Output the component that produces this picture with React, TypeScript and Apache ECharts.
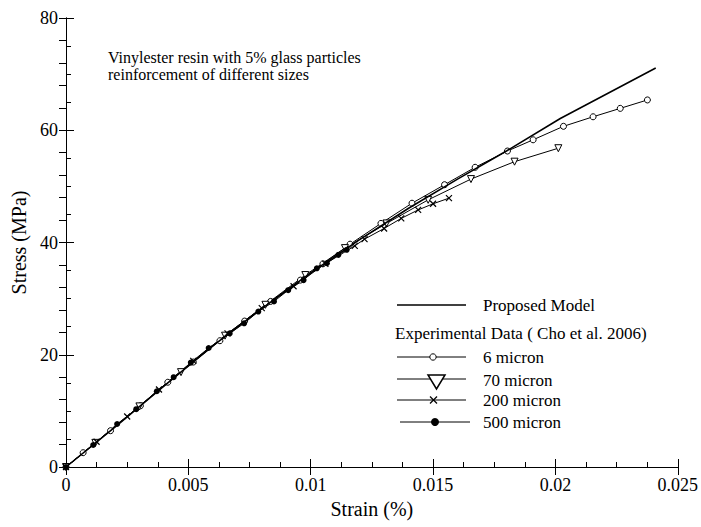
import React, { useEffect, useRef } from "react";
import * as echarts from "echarts";

const FONT = "'Liberation Serif', 'Times New Roman', serif";

// Strain ticks (bottom axis)
const strainTicks = [0, 0.005, 0.01, 0.015, 0.02, 0.025];
const stressTicks = [0, 20, 40, 60, 80];

// Proposed model
const modelStrain = [0, 0.002, 0.004, 0.006, 0.008, 0.01, 0.012, 0.014, 0.016, 0.018, 0.0202, 0.0241];
const modelStress = [0, 7.1, 14.4, 21.6, 28.2, 34.6, 40.5, 46.1, 51.3, 56.3, 62.1, 71.1];

// 6 micron
const s6Strain = [0, 0.0007, 0.00182, 0.00304, 0.00416, 0.0052, 0.00629, 0.0073, 0.00836, 0.00958, 0.0105, 0.01161, 0.01287, 0.01414, 0.01547, 0.01672, 0.01804, 0.01909, 0.02033, 0.02154, 0.02265, 0.02376];
const s6Stress = [0, 2.55, 6.47, 10.9, 15.1, 18.7, 22.5, 26.0, 29.5, 33.3, 36.2, 39.7, 43.4, 47.0, 50.3, 53.4, 56.3, 58.3, 60.7, 62.4, 63.9, 65.4];

// 70 micron
const s70Strain = [0, 0.0012, 0.003, 0.0047, 0.0065, 0.00815, 0.00978, 0.0114, 0.0131, 0.0148, 0.01655, 0.01833, 0.02012];
const s70Stress = [0, 4.3, 10.8, 16.9, 23.4, 28.9, 34.2, 39.0, 43.4, 47.6, 51.3, 54.4, 56.8];

// 200 micron
const s200Strain = [0, 0.00125, 0.0025, 0.0038, 0.0052, 0.0066, 0.008, 0.0093, 0.0106, 0.0118, 0.0122, 0.013, 0.0137, 0.01439, 0.015, 0.01565];
const s200Stress = [0, 4.5, 9.0, 13.8, 18.9, 23.8, 28.3, 32.2, 36.2, 39.4, 40.6, 42.5, 44.3, 45.8, 46.9, 47.9];

// 500 micron
const s500Strain = [0, 0.00111, 0.00209, 0.00287, 0.00371, 0.0044, 0.0051, 0.00583, 0.00669, 0.00728, 0.00786, 0.0085, 0.00908, 0.00971, 0.01025, 0.01066, 0.01113, 0.01147];
const s500Stress = [0, 3.92, 7.66, 10.3, 13.5, 16.0, 18.6, 21.2, 23.8, 25.6, 27.7, 29.5, 31.5, 33.3, 35.4, 36.3, 37.8, 38.7];

const zip = (xs: number[], ys: number[]) => xs.map((x, i) => [x, ys[i]]);

export default function App() {
  const ref = useRef<HTMLDivElement>(null);
  useEffect(() => {
    const chart = echarts.init(ref.current!, null, { renderer: "svg" });
    const axisLine = { show: true, lineStyle: { color: "#000", width: 1 } };
    const expLine = { color: "#000", width: 1 };
    const txt = (x: number, y: number, text: string, size: number) => ({
      type: "text",
      x,
      y,
      style: { text, fontFamily: FONT, fontSize: size, fill: "#000", verticalAlign: "middle" },
    });
    chart.setOption({
      animation: false,
      backgroundColor: "#fff",
      textStyle: { fontFamily: FONT },
      grid: { left: 66, right: 21, top: 18, bottom: 60 },
      xAxis: [
        {
          type: "value",
          position: "bottom",
          min: strainTicks[0],
          max: strainTicks[strainTicks.length - 1],
          interval: 0.005,
          name: "Strain (%)",
          nameLocation: "middle",
          nameGap: 31,
          nameTextStyle: { fontFamily: FONT, fontSize: 20, color: "#000" },
          axisLine,
          axisTick: { inside: true, length: 8, lineStyle: { color: "#000" } },
          minorTick: { show: true, splitNumber: 4, length: 5, lineStyle: { color: "#000" } },
          splitLine: { show: false },
          axisLabel: {
            fontFamily: FONT,
            fontSize: 18,
            color: "#000",
            margin: 9,
            formatter: (v: number) => String(+v.toFixed(3)),
          },
        },
        {
          type: "value",
          position: "top",
          min: strainTicks[0],
          max: strainTicks[strainTicks.length - 1],
          interval: 0.005,
          axisLine,
          axisTick: { inside: true, length: 8, lineStyle: { color: "#000" } },
          splitLine: { show: false },
          axisLabel: { show: false },
        },
      ],
      yAxis: [
        {
          type: "value",
          position: "left",
          min: stressTicks[0],
          max: stressTicks[stressTicks.length - 1],
          interval: 20,
          name: "Stress (MPa)",
          nameLocation: "middle",
          nameGap: 36,
          nameTextStyle: { fontFamily: FONT, fontSize: 20, color: "#000" },
          axisLine,
          axisTick: { inside: true, length: 8, lineStyle: { color: "#000" } },
          minorTick: { show: true, splitNumber: 4, length: 5, lineStyle: { color: "#000" } },
          splitLine: { show: false },
          axisLabel: { fontFamily: FONT, fontSize: 18, color: "#000", margin: 8 },
        },
        {
          type: "value",
          position: "right",
          min: 0,
          max: 80,
          interval: 4,
          axisLine,
          axisTick: { inside: true, length: 7, lineStyle: { color: "#000" } },
          splitLine: { show: false },
          axisLabel: { show: false },
        },
      ],
      series: [
        {
          name: "6 micron",
          type: "line",
          data: zip(s6Strain, s6Stress),
          symbol: "circle",
          symbolSize: 6,
          showAllSymbol: true,
          lineStyle: expLine,
          itemStyle: { color: "#fff", borderColor: "#000", borderWidth: 1 },
        },
        {
          name: "70 micron",
          type: "line",
          data: zip(s70Strain, s70Stress),
          symbol: "triangle",
          symbolRotate: 180,
          symbolSize: 7,
          showAllSymbol: true,
          lineStyle: expLine,
          itemStyle: { color: "#fff", borderColor: "#000", borderWidth: 1 },
        },
        {
          name: "200 micron",
          type: "line",
          data: zip(s200Strain, s200Stress),
          symbol: "path://M0,0L10,10M10,0L0,10",
          symbolSize: 6,
          showAllSymbol: true,
          lineStyle: expLine,
          itemStyle: { color: "none", borderColor: "#000", borderWidth: 1.2 },
        },
        {
          name: "500 micron",
          type: "line",
          data: zip(s500Strain, s500Stress),
          symbol: "circle",
          symbolSize: 6,
          showAllSymbol: true,
          lineStyle: expLine,
          itemStyle: { color: "#000", borderColor: "#000", borderWidth: 0 },
        },
        {
          name: "Proposed Model",
          type: "line",
          data: zip(modelStrain, modelStress),
          symbol: "none",
          lineStyle: { color: "#000", width: 1.6 },
          z: 5,
        },
      ],
      graphic: [
        txt(108, 57, "Vinylester resin with 5% glass particles", 16),
        txt(108, 74, "reinforcement of different sizes", 16),
        // Legend: Proposed Model
        { type: "line", shape: { x1: 397, y1: 305, x2: 466, y2: 305 }, style: { stroke: "#000", lineWidth: 1.3 } },
        txt(483, 305, "Proposed Model", 17),
        txt(395, 333, "Experimental Data ( Cho et al. 2006)", 17),
        // 6 micron
        { type: "line", shape: { x1: 397, y1: 357, x2: 466, y2: 357 }, style: { stroke: "#000", lineWidth: 1 } },
        { type: "circle", shape: { cx: 433, cy: 357, r: 3.2 }, style: { fill: "#fff", stroke: "#000", lineWidth: 1 } },
        txt(483, 357, "6 micron", 17),
        // 70 micron
        { type: "line", shape: { x1: 397, y1: 379, x2: 466, y2: 379 }, style: { stroke: "#000", lineWidth: 1 } },
        { type: "polygon", shape: { points: [[428, 375], [445, 375], [436.5, 389]] }, style: { fill: "#fff", stroke: "#000", lineWidth: 1.5 } },
        txt(483, 380, "70 micron", 17),
        // 200 micron
        { type: "line", shape: { x1: 397, y1: 400, x2: 466, y2: 400 }, style: { stroke: "#000", lineWidth: 1 } },
        { type: "line", shape: { x1: 430, y1: 396.5, x2: 437, y2: 403.5 }, style: { stroke: "#000", lineWidth: 1.2 } },
        { type: "line", shape: { x1: 437, y1: 396.5, x2: 430, y2: 403.5 }, style: { stroke: "#000", lineWidth: 1.2 } },
        txt(483, 400, "200 micron", 17),
        // 500 micron
        { type: "line", shape: { x1: 400, y1: 422, x2: 470, y2: 422 }, style: { stroke: "#000", lineWidth: 1 } },
        { type: "circle", shape: { cx: 435, cy: 422, r: 4 }, style: { fill: "#000", stroke: "#000", lineWidth: 0 } },
        txt(483, 422, "500 micron", 17),
      ],
    });
    return () => chart.dispose();
  }, []);
  return <div ref={ref} style={{ position: "absolute", left: 0, top: 0, width: 701, height: 527 }} />;
}
